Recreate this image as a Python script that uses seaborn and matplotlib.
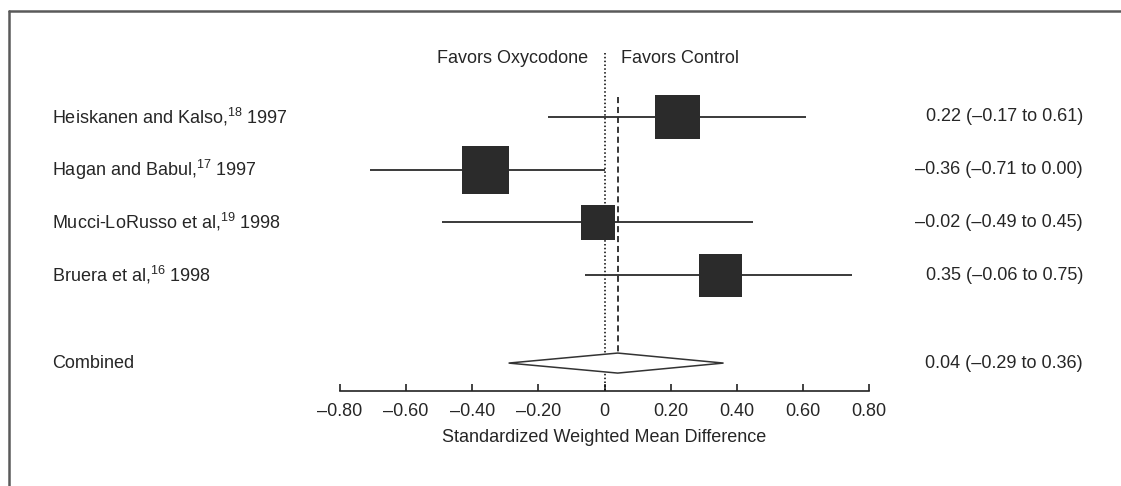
import numpy as np
import pandas as pd
import seaborn as sns
import matplotlib.pyplot as plt
from matplotlib.patches import Polygon
from matplotlib.lines import Line2D
from matplotlib.transforms import blended_transform_factory

sns.set_theme(style="white")
plt.rcParams['font.family'] = ['Liberation Sans', 'DejaVu Sans']
plt.rcParams['mathtext.fontset'] = 'custom'
plt.rcParams['mathtext.rm'] = 'Liberation Sans'
plt.rcParams['mathtext.default'] = 'regular'

# data
studies = ["Heiskanen and Kalso,$^{18}$ 1997",
           "Hagan and Babul,$^{17}$ 1997",
           "Mucci-LoRusso et al,$^{19}$ 1998",
           "Bruera et al,$^{16}$ 1998"]
smd = [0.22, -0.36, -0.02, 0.35]
ci_low = [-0.17, -0.71, -0.49, -0.06]
ci_high = [0.61, 0.00, 0.45, 0.75]
weights = [27.5, 31.1, 16.1, 25.3]  # estimated from square areas

combined_label = "Combined"
combined_smd = 0.04
combined_low = -0.29
combined_high = 0.36

xticks = [-0.8, -0.6, -0.4, -0.2, 0, 0.2, 0.4, 0.6, 0.8]
xtick_labels = ["–0.80", "–0.60", "–0.40", "–0.20", "0", "0.20", "0.40", "0.60", "0.80"]

def fmt(v):
    return ("–%.2f" % abs(v)) if v < 0 else "%.2f" % v

df = pd.DataFrame({"study": studies, "smd": smd, "lo": ci_low, "hi": ci_high,
                   "weight": weights})
df["row"] = np.arange(len(df))
comb_row = len(df) + 0.67

W, H = 1121, 486
fig = plt.figure(figsize=(W / 100, H / 100), dpi=100)
ax = fig.add_axes([340 / W, 1 - 391 / H, 529 / W, (391 - 20) / H])
ax.set_xlim(-0.8, 0.8)
ax.set_ylim(5.2, -1.84)

ink = "#2b2b2b"

# reference lines
ax.vlines(0, -1.22, 5.2, colors="black", linestyles=(0, (1, 1.5)), lw=1.1)
ax.vlines(combined_smd, -0.38, 4.85, colors="black", linestyles=(0, (4, 2.5)), lw=1.1)

# confidence intervals
ax.hlines(df["row"], df["lo"], df["hi"], colors=ink, lw=1.3, zorder=2)

# weighted squares
sns.scatterplot(data=df, x="smd", y="row", size="weight", sizes=(620, 1180),
                marker="s", color=ink, linewidth=0, legend=False, ax=ax, zorder=3)

# combined diamond
h = 0.19
diamond = Polygon([(combined_low, comb_row), (combined_smd, comb_row - h),
                   (combined_high, comb_row), (combined_smd, comb_row + h)],
                  closed=True, facecolor="white", edgecolor="#333333", lw=1.1, zorder=3)
ax.add_patch(diamond)

# labels on both sides
tr = blended_transform_factory(fig.transFigure, ax.transData)
fs = 13
for i, r in df.iterrows():
    ax.text(52 / W, r["row"], r["study"], transform=tr, ha="left", va="center", fontsize=fs)
    ax.text(1083 / W, r["row"], "%s (%s to %s)" % (fmt(r["smd"]), fmt(r["lo"]), fmt(r["hi"])),
            transform=tr, ha="right", va="center", fontsize=fs)
ax.text(52 / W, comb_row, combined_label, transform=tr, ha="left", va="center", fontsize=fs)
ax.text(1083 / W, comb_row, "%s (%s to %s)" % (fmt(combined_smd), fmt(combined_low), fmt(combined_high)),
        transform=tr, ha="right", va="center", fontsize=fs)

# header
ax.text(-0.05, -1.1, "Favors Oxycodone", ha="right", va="center", fontsize=fs)
ax.text(0.05, -1.1, "Favors Control", ha="left", va="center", fontsize=fs)

# axis styling
for s in ["left", "top", "right"]:
    ax.spines[s].set_visible(False)
ax.spines["bottom"].set_color("#222222")
ax.spines["bottom"].set_linewidth(1.2)
ax.set_yticks([])
ax.set_ylabel("")
ax.set_xticks(xticks)
ax.set_xticklabels(xtick_labels, fontsize=fs)
ax.tick_params(axis="x", direction="in", length=5, width=1.2, color="#222222", pad=9,
               bottom=True)
ax.set_xlabel("Standardized Weighted Mean Difference", fontsize=fs, labelpad=6)

# frame
fig.add_artist(Line2D([9 / W, 1], [1 - 11 / H, 1 - 11 / H], transform=fig.transFigure,
                      color="#5a5a5a", lw=1.8))
fig.add_artist(Line2D([9 / W, 9 / W], [0, 1 - 11 / H], transform=fig.transFigure,
                      color="#5a5a5a", lw=1.8))

fig.savefig("out.png", dpi=100)
